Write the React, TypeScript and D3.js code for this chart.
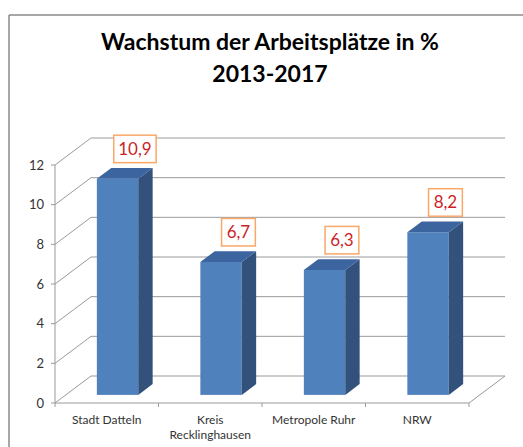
import React from "react";
import * as d3 from "d3";

const categories = ["Stadt Datteln", "Kreis Recklinghausen", "Metropole Ruhr", "NRW"];
const categoryLines = [["Stadt Datteln"], ["Kreis", "Recklinghausen"], ["Metropole Ruhr"], ["NRW"]];
const values = [10.9, 6.7, 6.3, 8.2];
const valueLabels = ["10,9", "6,7", "6,3", "8,2"];
const yTicks = [0, 2, 4, 6, 8, 10, 12];
const titleLines = ["Wachstum der Arbeitsplätze in %", "2013-2017"];

const W = 523;
const H = 447;
const FONT = "Lato, 'Open Sans', sans-serif";

export default function App() {
  const x0 = 55, x1 = 469, yBase = 403, yTop = 165;
  const DX = 36, DY = -27;
  const y = d3.scaleLinear().domain([0, 12]).range([yBase, yTop]);
  const x = d3.scaleBand<string>().domain(categories).range([x0, x1]).paddingInner(0.6).paddingOuter(0.3);
  const bw = x.bandwidth();
  const fd = 0.3, bd = 0.7;
  const grid = "#9a9a9a";

  const pts = (p: number[][]) => p.map((q) => q.join(",")).join(" ");
  const step = x.step();
  const boundaries = d3.range(categories.length + 1).map((i) => x0 + i * step);

  return (
    <svg width={W} height={H} style={{ position: "absolute", left: 0, top: 0, background: "#fff" }} fontFamily={FONT}>
      {/* outer frame */}
      <line x1={9} y1={15} x2={W} y2={15} stroke="#8a8a8a" strokeWidth={1.5} />
      <line x1={9} y1={15} x2={9} y2={H} stroke="#8a8a8a" strokeWidth={1.5} />

      {/* title */}
      {titleLines.map((t, i) => (
        <text key={i} x={270} y={50 + i * 32} textAnchor="middle" fontSize={23} fontWeight="bold" fill="#000">
          {t}
        </text>
      ))}

      {/* gridlines & walls */}
      {yTicks.map((t) => {
        const yy = y(t);
        return (
          <g key={t}>
            <polyline
              points={pts([[x0, yy], [x0 + DX, yy + DY], [x1 + DX, yy + DY]])}
              fill="none"
              stroke={grid}
              strokeWidth={1}
            />
            <line x1={x0 - 4} y1={yy} x2={x0} y2={yy} stroke={grid} />
            <text x={44} y={yy + 4.5} textAnchor="end" fontSize={13} fill="#333">
              {t}
            </text>
          </g>
        );
      })}
      {/* left axis */}
      <line x1={x0} y1={yBase} x2={x0} y2={yTop} stroke={grid} />
      {/* floor */}
      <line x1={x0} y1={yBase} x2={x1} y2={yBase} stroke={grid} />
      <line x1={x1} y1={yBase} x2={x1 + DX} y2={yBase + DY} stroke={grid} />
      {boundaries.map((b, i) => (
        <line key={i} x1={b} y1={yBase} x2={b} y2={yBase + 4} stroke={grid} />
      ))}

      {/* bars */}
      {categories.map((c, i) => {
        const v = values[i];
        const fx0 = (x(c) as number) + DX * fd;
        const fx1 = fx0 + bw;
        const top = y(v) + DY * fd;
        const bot = y(0) + DY * fd;
        const ddx = DX * (bd - fd), ddy = DY * (bd - fd);
        return (
          <g key={c}>
            <rect x={fx0} y={top} width={bw} height={bot - top} fill="#4F81BD" />
            <polygon points={pts([[fx1, top], [fx1 + ddx, top + ddy], [fx1 + ddx, bot + ddy], [fx1, bot]])} fill="#32517B" />
            <polygon points={pts([[fx0, top], [fx1, top], [fx1 + ddx, top + ddy], [fx0 + ddx, top + ddy]])} fill="#3C65A0" />
          </g>
        );
      })}

      {/* value labels */}
      {categories.map((c, i) => {
        const cx = (x(c) as number) + bw / 2 + DX * bd + 3;
        const backTop = y(values[i]) + DY * bd;
        const cy = backTop - 19;
        const w = valueLabels[i].length * 8.6 + 8;
        const h = 27.5;
        return (
          <g key={c}>
            <rect x={cx - w / 2} y={cy - h / 2} width={w} height={h} fill="#fff" stroke="#F9A868" strokeWidth={1.5} />
            <text x={cx} y={cy + 6} textAnchor="middle" fontSize={17} fill="#CC1F27">
              {valueLabels[i]}
            </text>
          </g>
        );
      })}

      {/* category labels */}
      {categories.map((c, i) => {
        const cx = (x(c) as number) + bw / 2;
        return (
          <text key={c} textAnchor="middle" fontSize={12} fill="#333">
            {categoryLines[i].map((l, j) => (
              <tspan key={j} x={cx} y={424 + j * 15}>
                {l}
              </tspan>
            ))}
          </text>
        );
      })}
    </svg>
  );
}
